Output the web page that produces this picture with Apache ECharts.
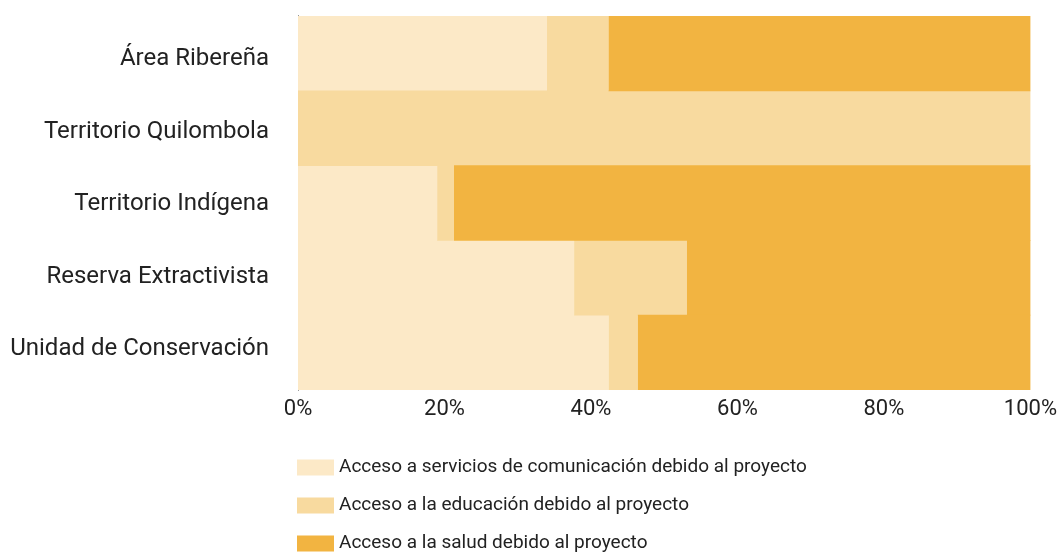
<!DOCTYPE html>
<html>
<head>
<meta charset="utf-8">
<script src="https://cdn.jsdelivr.net/npm/echarts@6/dist/echarts.min.js"></script>
<style>html,body{margin:0;padding:0;background:#fff;}#c{width:1060px;height:552px;}</style>
</head>
<body>
<div id="c"></div>
<script>
const categories = ['Área Ribereña', 'Territorio Quilombola', 'Territorio Indígena', 'Reserva Extractivista', 'Unidad de Conservación'];
const seriesNames = ['Acceso a servicios de comunicación debido al proyecto', 'Acceso a la educación debido al proyecto', 'Acceso a la salud debido al proyecto'];
const comunicacion = [34.0, 0, 19.0, 37.7, 42.4];
const educacion = [8.4, 100, 2.3, 15.4, 4.0];
const salud = [57.6, 0, 78.7, 46.9, 53.6];
const colors = ['#FCE9C7', '#F8DA9F', '#F2B441'];

const font = 'Roboto, "Noto Sans", sans-serif';
const chart = echarts.init(document.getElementById('c'));
const vals = [comunicacion, educacion, salud];
// small vertical nudges for the category labels (px, + = down)
const labelShift = [6, 4, 1, -1, -4];
const rich = {};
labelShift.forEach((s, i) => {
  rich['l' + i] = {
    fontSize: 24, color: '#222', fontFamily: font,
    padding: s >= 0 ? [2 * s, 0, 0, 0] : [0, 0, -2 * s, 0]
  };
});
chart.setOption({
  animation: false,
  textStyle: { fontFamily: font },
  grid: { left: 298, right: 29, top: 16, bottom: 162 },
  legend: {
    orient: 'vertical', left: 297, top: 458, height: 130, padding: 0,
    itemWidth: 37, itemHeight: 16, itemGap: 19,
    icon: 'rect',
    textStyle: { fontSize: 19, lineHeight: 16, color: '#222', fontFamily: font },
    data: seriesNames
  },
  xAxis: {
    type: 'value', min: 0, max: 100, interval: 20,
    axisLine: { show: false }, axisTick: { show: false }, splitLine: { show: false },
    axisLabel: { formatter: '{value}%', fontSize: 22, color: '#222', margin: 8, fontFamily: font }
  },
  yAxis: {
    type: 'category', inverse: true, data: categories,
    axisLine: { show: true, lineStyle: { color: '#000', width: 1 } },
    axisTick: { show: false },
    axisLabel: {
      fontSize: 24, color: '#222', margin: 29, fontFamily: font,
      formatter: (v, i) => '{l' + i + '|' + v + '}',
      rich: rich
    }
  },
  series: seriesNames.map((n, i) => ({
    name: n, type: 'bar', stack: 'total', data: vals[i],
    barWidth: '101%', barCategoryGap: 0,
    itemStyle: { color: colors[i] }
  }))
});
</script>
</body>
</html>
